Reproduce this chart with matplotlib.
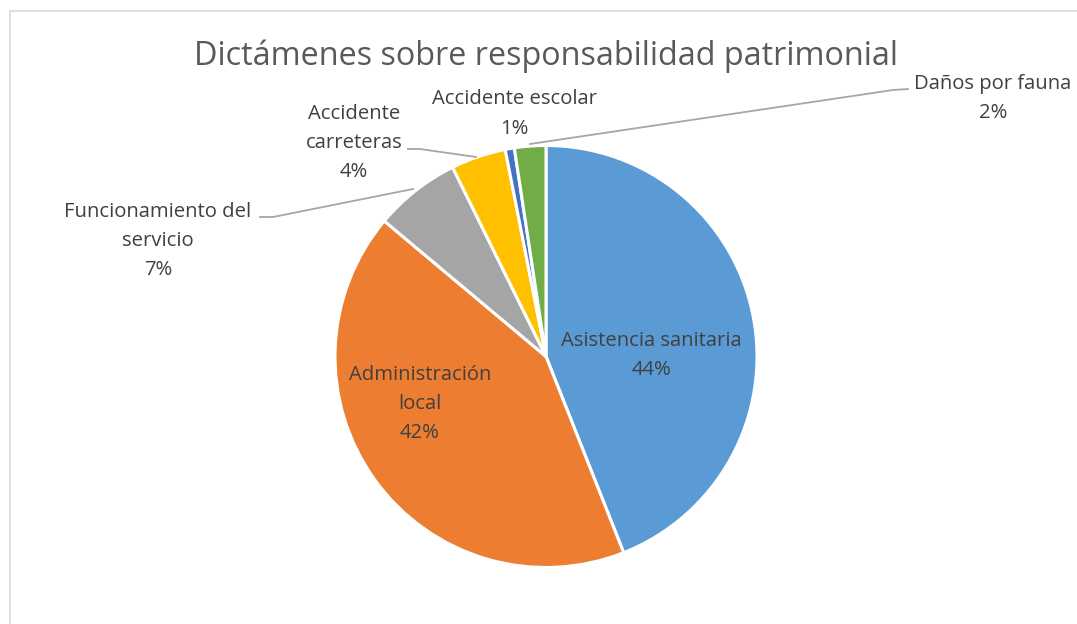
import matplotlib
matplotlib.use("Agg")
import matplotlib.pyplot as plt
from matplotlib.patches import Rectangle

categories = ["Asistencia sanitaria", "Administración local", "Funcionamiento del servicio",
              "Accidente carreteras", "Accidente escolar", "Daños por fauna"]
label_texts = ["Asistencia sanitaria", "Administración\nlocal", "Funcionamiento del\nservicio",
               "Accidente\ncarreteras", "Accidente escolar", "Daños por fauna"]
values = [44.0, 42.1, 6.6, 4.2, 0.7, 2.4]
colors = ["#5B9BD5", "#ED7D31", "#A5A5A5", "#FFC000", "#4472C4", "#70AD47"]

W, H = 1077, 624
fig = plt.figure(figsize=(W / 100, H / 100), dpi=100)
fig.patch.set_facecolor("white")

# chart border
fig.add_artist(Rectangle((9.5 / W, -0.1), 1.2, 1 - 11 / H + 0.1, transform=fig.transFigure,
                         fill=False, edgecolor="#D9D9D9", linewidth=1.2))

cx, cy, r = 546, 356.5, 211
ax = fig.add_axes([(cx - r) / W, (H - cy - r) / H, 2 * r / W, 2 * r / H])
ax.pie(values, colors=colors, startangle=90, counterclock=False, radius=1,
       wedgeprops=dict(edgecolor="white", linewidth=2.2))
ax.set_xlim(-1, 1)
ax.set_ylim(-1, 1)
ax.set_aspect("equal")
ax.axis("off")

def d(px, py):
    return ((px - cx) / r, (cy - py) / r)

font = "Open Sans"
tcol = "#404040"
fs = 14.6

# label positions (pixel centers of text blocks)
label_pos = [(651, 356), (420, 404), (158, 241), (354, 143), (514, 114), (993, 98)]
for txt, v, (px, py) in zip(label_texts, values, label_pos):
    ax.text(*d(px, py), f"{txt}\n{round(v)}%", ha="center", va="center", fontsize=fs,
            family=font, color=tcol, linespacing=1.6, clip_on=False)

# leader lines
lcol = "#A6A6A6"
leaders = [
    [(260, 217), (273, 217), (413, 189)],
    [(408, 149), (420, 149), (476, 157)],
    [(908, 89), (893, 90), (530, 144)],
]
for pts in leaders:
    xs, ys = zip(*[d(*p) for p in pts])
    ax.plot(xs, ys, color=lcol, linewidth=1.3, clip_on=False)

fig.text(546 / W, 1 - 56 / H, "Dictámenes sobre responsabilidad patrimonial", ha="center",
         va="center", fontsize=23.3, family=font, color="#595959")

fig.savefig("out.png", dpi=100, facecolor="white")
